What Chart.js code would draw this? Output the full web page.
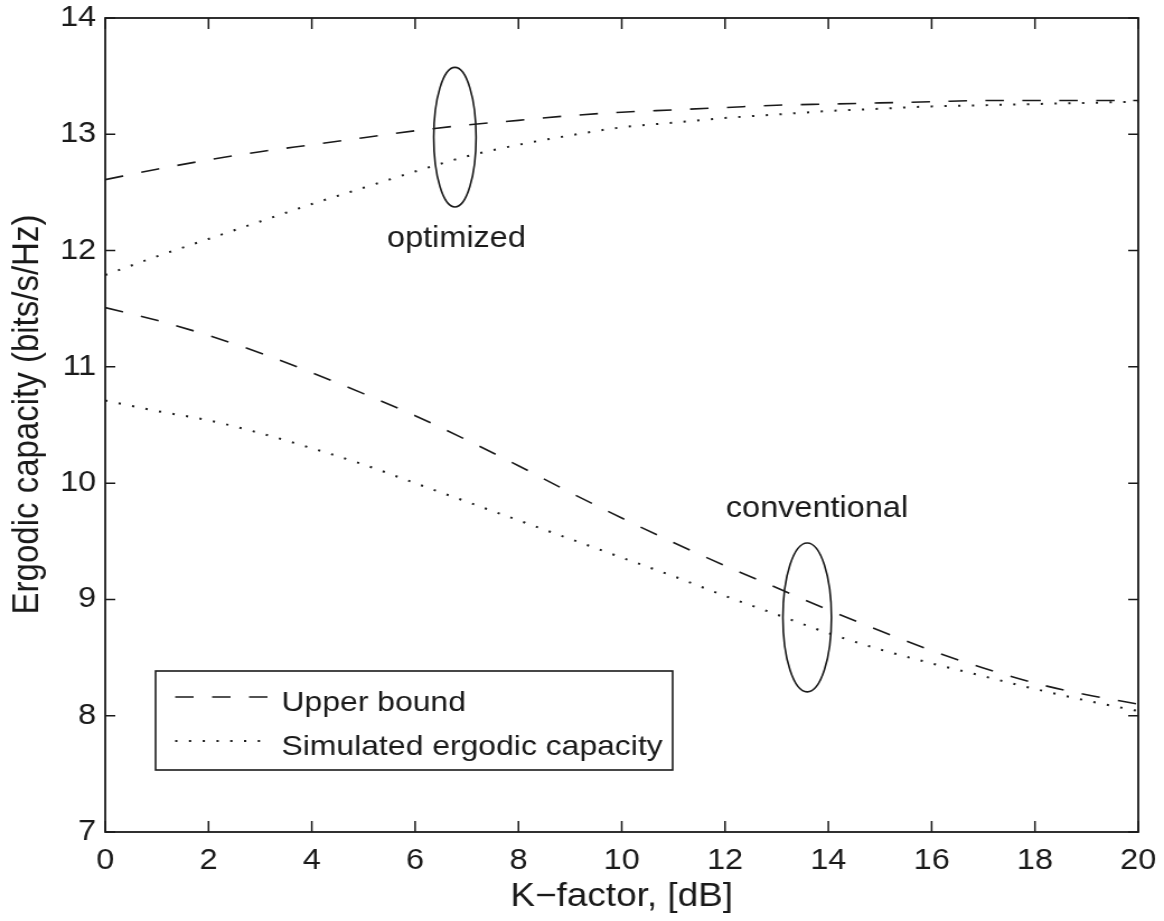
<!DOCTYPE html>
<html lang="en">
<head>
    <meta charset="UTF-8">
    <title>Ergodic capacity vs K-factor</title>
    <style>
        html, body { margin: 0; padding: 0; background: #fff; }
        #frame { width: 1164px; height: 921px; overflow: hidden; }
        /* the source figure is stretched a little wider than it is tall */
        #stretch { width: 1040px; height: 921px; transform: scaleX(1.11923); transform-origin: 0 0; }
    </style>
</head>
<body>
<!-- chart area -->
<div id="frame">
    <div id="stretch">
        <canvas id="myChart" width="1040" height="921"></canvas>
    </div>
</div>

<!-- chart.js CDN -->
<script src="https://cdn.jsdelivr.net/npm/chart.js"></script>

<script>
    // K-factor in dB
    const kFactor = [0, 1, 2, 3, 4, 5, 6, 7, 8, 9, 10, 11, 12, 13, 14, 15, 16, 17, 18, 19, 20];

    // optimized scheme
    const upperOptimized = [12.61, 12.70, 12.78, 12.85, 12.91, 12.97, 13.03, 13.08, 13.12, 13.16, 13.19,
                            13.21, 13.23, 13.25, 13.26, 13.27, 13.28, 13.29, 13.29, 13.29, 13.29];
    const simOptimized = [11.79, 11.95, 12.10, 12.25, 12.40, 12.54, 12.68, 12.81, 12.91, 12.99, 13.06,
                          13.10, 13.14, 13.17, 13.20, 13.22, 13.24, 13.25, 13.26, 13.27, 13.28];

    // conventional scheme
    const upperConventional = [11.51, 11.40, 11.27, 11.12, 10.95, 10.77, 10.58, 10.37, 10.15, 9.92, 9.70,
                               9.49, 9.29, 9.10, 8.91, 8.73, 8.56, 8.41, 8.28, 8.18, 8.10];
    const simConventional = [10.71, 10.62, 10.54, 10.43, 10.30, 10.16, 10.00, 9.84, 9.68, 9.52, 9.36,
                             9.20, 9.03, 8.87, 8.71, 8.57, 8.45, 8.34, 8.23, 8.13, 8.04];

    const xTicks = [0, 2, 4, 6, 8, 10, 12, 14, 16, 18, 20];
    const yTicks = [7, 8, 9, 10, 11, 12, 13, 14];

    // group labels with their ellipses (data units)
    const groupNames = ['optimized', 'conventional'];
    const groupEllipse = [
        {cx: 6.77, cy: 12.975, rx: 0.41, ry: 0.60},
        {cx: 13.59, cy: 8.845, rx: 0.47, ry: 0.64}
    ];
    const groupText = [
        {x: 6.80, y: 12.03},
        {x: 13.78, y: 9.71}
    ];

    const FONT = "'Liberation Sans', Arial, Helvetica, sans-serif";
    const INK = '#1a1a1a';
    const DASHED = [16.5, 16.5];
    const DOTTED = [2, 10.3];

    const toXY = arr => kFactor.map((k, i) => ({x: k, y: arr[i]}));

    function lineSet(label, values, dash, width, inLegend) {
        return {
            label: label,
            data: toXY(values),
            borderColor: INK,
            borderWidth: width,
            borderDash: dash,
            borderCapStyle: 'butt',
            pointRadius: 0,
            fill: false,
            cubicInterpolationMode: 'monotone',
            inLegend: inLegend
        };
    }

    // MATLAB-like box, inward ticks, annotations, y label and legend
    const matlabLook = {
        id: 'matlabLook',
        afterDatasetsDraw(chart) {
            const {ctx, chartArea: a, scales: {x, y}} = chart;
            ctx.save();
            ctx.strokeStyle = INK;
            ctx.lineWidth = 1.6;
            ctx.setLineDash([]);

            // ellipses
            groupEllipse.forEach(e => {
                const cx = x.getPixelForValue(e.cx);
                const cy = y.getPixelForValue(e.cy);
                const rx = Math.abs(x.getPixelForValue(e.cx + e.rx) - cx);
                const ry = Math.abs(y.getPixelForValue(e.cy + e.ry) - cy);
                ctx.beginPath();
                ctx.ellipse(cx, cy, rx, ry, 0, 0, Math.PI * 2);
                ctx.stroke();
            });

            // group names
            ctx.fillStyle = INK;
            ctx.font = '29px ' + FONT;
            ctx.textAlign = 'center';
            ctx.textBaseline = 'alphabetic';
            groupNames.forEach((name, i) => {
                ctx.fillText(name, x.getPixelForValue(groupText[i].x), y.getPixelForValue(groupText[i].y));
            });

            // axes box
            ctx.lineWidth = 1.8;
            ctx.strokeRect(a.left, a.top, a.right - a.left, a.bottom - a.top);

            // inward tick marks
            ctx.lineWidth = 1.5;
            ctx.beginPath();
            x.ticks.forEach(t => {
                const px = x.getPixelForValue(t.value);
                ctx.moveTo(px, a.bottom); ctx.lineTo(px, a.bottom - 11);
                ctx.moveTo(px, a.top); ctx.lineTo(px, a.top + 11);
            });
            y.ticks.forEach(t => {
                const py = y.getPixelForValue(t.value);
                ctx.moveTo(a.left, py); ctx.lineTo(a.left + 9, py);
                ctx.moveTo(a.right, py); ctx.lineTo(a.right - 9, py);
            });
            ctx.stroke();

            // y axis label
            ctx.save();
            ctx.translate(24.5, (a.top + a.bottom) / 2 - 10.5);
            ctx.rotate(-Math.PI / 2);
            ctx.font = '33px ' + FONT;
            ctx.textAlign = 'center';
            ctx.textBaseline = 'middle';
            ctx.fillText('Ergodic capacity (bits/s/Hz)', 0, 0);
            ctx.restore();

            // legend box
            const items = chart.data.datasets.filter(d => d.inLegend);
            const bx = a.left + 45, bw = 462;
            const by = 671, bh = 99;
            ctx.fillStyle = '#fff';
            ctx.fillRect(bx, by, bw, bh);
            ctx.lineWidth = 1.6;
            ctx.strokeRect(bx, by, bw, bh);
            ctx.textAlign = 'left';
            ctx.textBaseline = 'alphabetic';
            ctx.font = '28.5px ' + FONT;
            items.forEach((d, i) => {
                const base = by + 40 + i * 44;
                const ly = base - 14;
                ctx.beginPath();
                ctx.setLineDash(d.borderDash);
                ctx.lineWidth = d.borderWidth;
                ctx.lineCap = 'butt';
                ctx.moveTo(bx + 17.5, ly);
                ctx.lineTo(bx + 102, ly);
                ctx.stroke();
                ctx.setLineDash([]);
                ctx.fillStyle = INK;
                ctx.fillText(d.label, bx + 112.5, base);
            });
            ctx.restore();
        }
    };

    const ctx = document.getElementById('myChart');

    new Chart(ctx, {
        type: 'line',
        data: {
            datasets: [
                lineSet('Upper bound', upperOptimized, DASHED, 1.6, true),
                lineSet('Simulated ergodic capacity', simOptimized, DOTTED, 2, true),
                lineSet('Upper bound (conventional)', upperConventional, DASHED, 1.6, false),
                lineSet('Simulated ergodic capacity (conventional)', simConventional, DOTTED, 2, false)
            ]
        },
        options: {
            responsive: false,
            animation: false,
            layout: {
                padding: {top: 18, right: 23, left: 0, bottom: 0}
            },
            scales: {
                x: {
                    type: 'linear',
                    min: 0,
                    max: 20,
                    afterBuildTicks: s => { s.ticks = xTicks.map(v => ({value: v})); },
                    afterFit: s => { s.height = 89; s.paddingLeft = 0; s.paddingRight = 0; },
                    grid: {display: false, drawTicks: false},
                    border: {display: false},
                    ticks: {
                        color: INK,
                        padding: 12,
                        maxRotation: 0,
                        autoSkip: false,
                        font: {family: FONT, size: 29}
                    },
                    title: {
                        display: true,
                        text: 'K\u2212factor, [dB]',
                        color: INK,
                        padding: {top: 0, bottom: 4.5},
                        font: {family: FONT, size: 33}
                    }
                },
                y: {
                    min: 7,
                    max: 14,
                    afterBuildTicks: s => { s.ticks = yTicks.map(v => ({value: v})); },
                    afterFit: s => { s.width = 94; s.paddingTop = 0; s.paddingBottom = 0; },
                    grid: {display: false, drawTicks: false},
                    border: {display: false},
                    ticks: {
                        color: INK,
                        padding: 8,
                        autoSkip: false,
                        font: {family: FONT, size: 29}
                    }
                }
            },
            plugins: {
                legend: {display: false},
                tooltip: {enabled: false}
            }
        },
        plugins: [matlabLook]
    });
</script>
</body>
</html>
